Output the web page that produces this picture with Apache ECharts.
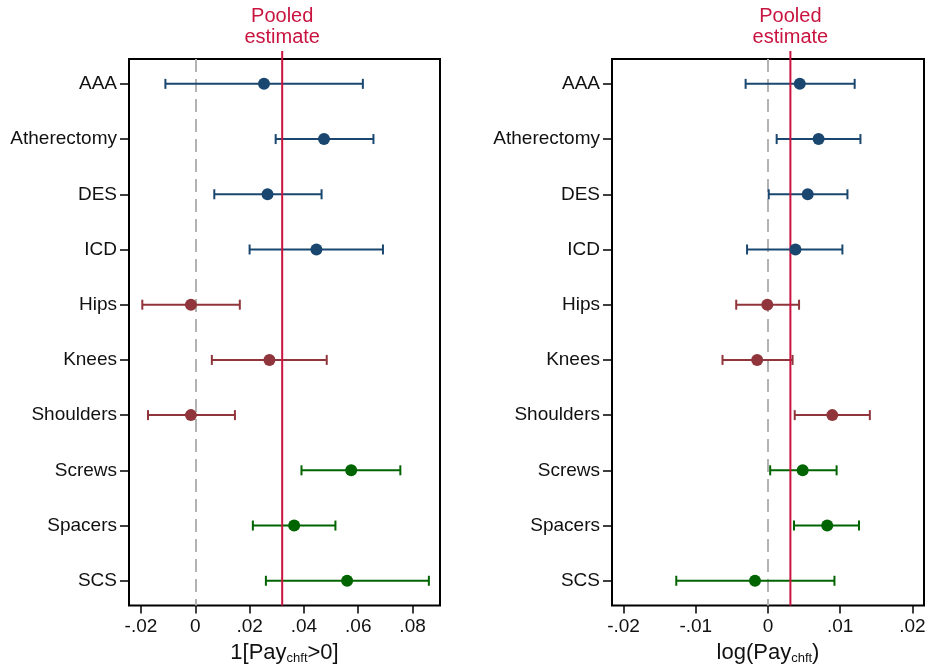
<!DOCTYPE html>
<html><head><meta charset="utf-8">
<script src="https://cdn.jsdelivr.net/npm/echarts@6/dist/echarts.min.js"></script>
<style>html,body{margin:0;padding:0;background:#fff}#c{width:929px;height:670px}</style>
</head><body><div id="c"></div>
<script>
const categories = ['AAA','Atherectomy','DES','ICD','Hips','Knees','Shoulders','Screws','Spacers','SCS'];
const groups = [0,0,0,0,1,1,1,2,2,2];
const groupColors = ['#1a476f','#90353b','#006400'];

const leftEst = [0.0253, 0.0474, 0.0266, 0.0446, -0.0016, 0.0273, -0.0016, 0.0574, 0.0364, 0.0559];
const leftLo  = [-0.0110, 0.0296, 0.0070, 0.0200, -0.0195, 0.0061, -0.0174, 0.0391, 0.0212, 0.0260];
const leftHi  = [0.0617, 0.0656, 0.0465, 0.0691, 0.0164, 0.0484, 0.0146, 0.0755, 0.0516, 0.0860];
const leftPooled = 0.0320;
const leftTicks = [-0.02, 0, 0.02, 0.04, 0.06, 0.08];
const leftTickLabels = ['-.02','0','.02','.04','.06','.08'];

const rightEst = [0.0044, 0.0070, 0.0055, 0.0038, -0.0001, -0.0015, 0.0089, 0.0048, 0.0082, -0.0018];
const rightLo  = [-0.0031, 0.0012, 0.0001, -0.0029, -0.0044, -0.0063, 0.0037, 0.0003, 0.0036, -0.0127];
const rightHi  = [0.0120, 0.0128, 0.0110, 0.0103, 0.0043, 0.0034, 0.0141, 0.0095, 0.0126, 0.0092];
const rightPooled = 0.0031;
const rightTicks = [-0.02, -0.01, 0, 0.01, 0.02];
const rightTickLabels = ['-.02','-.01','0','.01','.02'];

const FONT = "'Liberation Sans', Arial, Helvetica, sans-serif";
const POOL_COLOR = '#c8143f';
const catIdx = categories.map((_, i) => i);

function xAxisFor(gi, min, max, ticks, labels, title) {
  return {
    type: 'value', gridIndex: gi, min: min, max: max, position: 'bottom',
    splitLine: {show: false},
    axisLine: {show: false, onZero: false},
    axisTick: {show: true, length: 8, lineStyle: {color: '#000', width: 1.5}, customValues: ticks},
    axisLabel: {customValues: ticks, margin: 12, fontSize: 19, color: '#111', fontFamily: FONT,
      formatter: v => { const k = ticks.findIndex(t => Math.abs(t - v) < 1e-9); return k >= 0 ? labels[k] : ''; }},
    name: title, nameLocation: 'middle', nameGap: 30,
    nameTextStyle: {fontSize: 22, color: '#111', fontFamily: FONT,
      rich: {s: {fontSize: 13, color: '#111', fontFamily: FONT, verticalAlign: 'bottom', padding: [12,0,0,0]}, n: {fontSize: 22, color: '#111', fontFamily: FONT}}}
  };
}
function yAxisFor(gi) {
  return {
    type: 'value', gridIndex: gi, inverse: true, min: -0.45, max: 9.45, position: 'left',
    splitLine: {show: false}, axisLine: {show: false, onZero: false},
    axisTick: {show: true, length: 9, lineStyle: {color: '#000', width: 1.5}, customValues: catIdx},
    axisLabel: {customValues: catIdx, margin: 12, fontSize: 19, color: '#111', fontFamily: FONT,
      formatter: v => categories[Math.round(v)] || ''}
  };
}
function errorSeries(gi, lo, hi) {
  return {
    type: 'custom', xAxisIndex: gi, yAxisIndex: gi, z: 3,
    data: categories.map((c, i) => [lo[i], hi[i], i, groups[i]]),
    encode: {x: [0, 1], y: 2},
    renderItem: function (params, api) {
      const a = api.coord([api.value(0), api.value(2)]);
      const b = api.coord([api.value(1), api.value(2)]);
      const col = groupColors[api.value(3)];
      const st = {stroke: col, lineWidth: 2};
      const h = 5;
      return {type: 'group', children: [
        {type: 'line', shape: {x1: a[0], y1: a[1], x2: b[0], y2: b[1]}, style: st},
        {type: 'line', shape: {x1: a[0], y1: a[1] - h, x2: a[0], y2: a[1] + h}, style: st},
        {type: 'line', shape: {x1: b[0], y1: b[1] - h, x2: b[0], y2: b[1] + h}, style: st}
      ]};
    },
    markLine: {silent: true, symbol: 'none', label: {show: false}, z: 1,
      lineStyle: {color: '#b3b3b3', type: [13, 7], width: 2},
      data: [{xAxis: 0}]}
  };
}
function pointSeries(gi, est) {
  return {
    type: 'scatter', xAxisIndex: gi, yAxisIndex: gi, z: 5,
    symbol: 'circle', symbolSize: 12,
    data: categories.map((c, i) => ({value: [est[i], i], itemStyle: {color: groupColors[groups[i]], opacity: 1}}))
  };
}
function pooledSeries(gi, pooled) {
  return {
    type: 'custom', xAxisIndex: gi, yAxisIndex: gi, z: 4, clip: false, silent: true,
    data: [[pooled, 0]],
    encode: {x: 0, y: 1},
    renderItem: function (params, api) {
      const cs = params.coordSys;
      const p = api.coord([api.value(0), 0]);
      return {type: 'group', children: [
        {type: 'line', shape: {x1: p[0], y1: cs.y - 8, x2: p[0], y2: cs.y + cs.height}, style: {stroke: POOL_COLOR, lineWidth: 2}},
        {type: 'text', x: p[0], y: cs.y - 11, style: {text: 'Pooled\nestimate', fill: POOL_COLOR, font: '20px ' + FONT, align: 'center', verticalAlign: 'bottom', lineHeight: 21}}
      ]};
    }
  };
}

const chart = echarts.init(document.getElementById('c'), null, {renderer: 'canvas'});
chart.setOption({
  backgroundColor: '#fff',
  animation: false,
  grid: [
    {left: 129, right: 489, top: 59, bottom: 62, show: true, borderColor: '#000', borderWidth: 2, containLabel: false},
    {left: 612, right: 5, top: 59, bottom: 62, show: true, borderColor: '#000', borderWidth: 2, containLabel: false}
  ],
  xAxis: [
    xAxisFor(0, -0.0244, 0.0901, leftTicks, leftTickLabels, '{n|1[Pay}{s|chft}{n|>0]}'),
    xAxisFor(1, -0.0216, 0.0216, rightTicks, rightTickLabels, '{n|log(Pay}{s|chft}{n|)}')
  ],
  yAxis: [yAxisFor(0), yAxisFor(1)],
  series: [
    errorSeries(0, leftLo, leftHi), pooledSeries(0, leftPooled), pointSeries(0, leftEst),
    errorSeries(1, rightLo, rightHi), pooledSeries(1, rightPooled), pointSeries(1, rightEst)
  ]
});
</script></body></html>
